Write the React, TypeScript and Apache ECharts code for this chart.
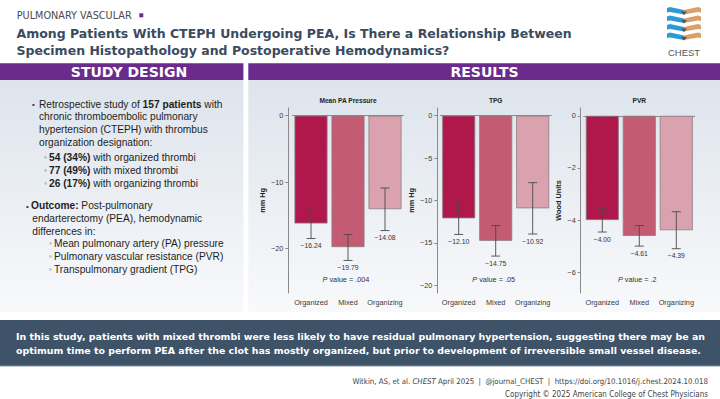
import React, { useEffect, useRef } from "react";
import * as echarts from "echarts";

// ---------- data ----------
const categories = ["Organized", "Mixed", "Organizing"];
const mpapMean = [-16.24, -19.79, -14.08];
const mpapHigh = [-14.1, -17.9, -10.9];
const mpapLow = [-18.5, -21.8, -17.3];
const tpgMean = [-12.1, -14.75, -10.92];
const tpgHigh = [-10.1, -12.95, -7.9];
const tpgLow = [-14.0, -16.55, -13.95];
const pvrMean = [-4.0, -4.61, -4.39];
const pvrHigh = [-3.57, -4.21, -3.68];
const pvrLow = [-4.46, -5.0, -5.1];
const mpapTicks = [0, -10, -20];
const tpgTicks = [0, -5, -10, -15, -20];
const pvrTicks = [0, -2, -4, -6];
const panelTitles = ["Mean PA Pressure", "TPG", "PVR"];
const axisNames = ["mm Hg", "mm Hg", "Wood Units"];
const pValues = [".004", ".05", ".2"];
const barColors = ["#b0184b", "#c35b72", "#d9a2ae"];

// ---------- layout ----------
const SANS = '"Liberation Sans", Arial, sans-serif';
const DJ = '"DejaVu Sans", Verdana, sans-serif';
const COND = '"DejaVu Sans Condensed", "DejaVu Sans", sans-serif';
const GRID_TOP = 108;
const GRID_H = 185;
const GRID_W = 111;
const panels = [
  { left: 292.5, offset: 4.2, min: -26.7, max: 1.15, ticks: mpapTicks, mean: mpapMean, hi: mpapHigh, lo: mpapLow, nameGap: 22 },
  { left: 440.2, offset: 2.9, min: -20.9, max: 0.9, ticks: tpgTicks, mean: tpgMean, hi: tpgHigh, lo: tpgLow, nameGap: 22 },
  { left: 583.8, offset: 3.1, min: -6.8, max: 0.3, ticks: pvrTicks, mean: pvrMean, hi: pvrHigh, lo: pvrLow, nameGap: 19 },
];

const fmt = (v: number) => (v < 0 ? "\u2212" : "") + Math.abs(v).toFixed(2);
const fmtTick = (v: number) => (v < 0 ? "\u2212" : "") + Math.abs(v);

const leftLines: { x: number; y: number; t: string }[] = [
  { x: 39, y: 104, t: "Retrospective study of {b|157 patients} with" },
  { x: 39, y: 116.7, t: "chronic thromboembolic pulmonary" },
  { x: 39, y: 129.3, t: "hypertension (CTEPH) with thrombus" },
  { x: 39, y: 142, t: "organization designation:" },
  { x: 49, y: 157.7, t: "{b|54 (34%)} with organized thrombi" },
  { x: 49, y: 170.3, t: "{b|77 (49%)} with mixed thrombi" },
  { x: 49, y: 183.3, t: "{b|26 (17%)} with organizing thrombi" },
  { x: 31, y: 205.7, t: "{b|Outcome:} Post-pulmonary" },
  { x: 32.3, y: 218.3, t: "endarterectomy (PEA), hemodynamic" },
  { x: 32.3, y: 231, t: "differences in:" },
  { x: 54, y: 243.3, t: "Mean pulmonary artery (PA) pressure" },
  { x: 54, y: 256, t: "Pulmonary vascular resistance (PVR)" },
  { x: 54, y: 269, t: "Transpulmonary gradient (TPG)" },
];
const bullets = [
  { x: 33.5, y: 104, t: "\u2022" },
  { x: 27.5, y: 206, t: "\u2022" },
  { x: 45.5, y: 157.7, t: "\u25E6" },
  { x: 45.5, y: 170.3, t: "\u25E6" },
  { x: 45.5, y: 183.3, t: "\u25E6" },
  { x: 50.5, y: 243.3, t: "\u25E6" },
  { x: 50.5, y: 256, t: "\u25E6" },
  { x: 50.5, y: 269, t: "\u25E6" },
];

function buildOption() {
  const grid: any[] = [];
  const xAxis: any[] = [];
  const yAxis: any[] = [];
  const series: any[] = [];
  const graphic: any[] = [];

  const panelGrad = {
    type: "linear", x: 0, y: 0, x2: 0, y2: 1,
    colorStops: [{ offset: 0, color: "#dde4ec" }, { offset: 1, color: "#f8f9fb" }],
  };
  graphic.push(
    { type: "rect", z: -10, shape: { x: 0, y: 80, width: 243.4, height: 232 }, style: { fill: panelGrad } },
    { type: "rect", z: -10, shape: { x: 248.3, y: 80, width: 471.7, height: 232 }, style: { fill: panelGrad } },
    { type: "rect", z: -9, shape: { x: 0, y: 63.3, width: 243.4, height: 16.8 }, style: { fill: "#6a2b8c" } },
    { type: "rect", z: -9, shape: { x: 248.3, y: 63.3, width: 471.7, height: 16.8 }, style: { fill: "#6a2b8c" } },
    { type: "text", x: 129, y: 72, style: { text: "STUDY DESIGN", fill: "#ffffff", font: `bold 14px ${DJ}`, textAlign: "center", textVerticalAlign: "middle" } },
    { type: "text", x: 484.5, y: 72, style: { text: "RESULTS", fill: "#ffffff", font: `bold 14px ${DJ}`, textAlign: "center", textVerticalAlign: "middle" } },
    // header
    { type: "text", x: 16.7, y: 15.5, style: { text: "PULMONARY VASCULAR", fill: "#4a4a4a", font: `9.7px ${DJ}`, textVerticalAlign: "middle" } },
    { type: "rect", shape: { x: 139.3, y: 13.3, width: 4, height: 4 }, style: { fill: "#6a2b8c" } },
    { type: "text", x: 16.5, y: 33.5, style: { text: "Among Patients With CTEPH Undergoing PEA, Is There a Relationship Between", fill: "#3a4b5e", font: `bold 12.5px ${DJ}`, textVerticalAlign: "middle" } },
    { type: "text", x: 16.5, y: 50.2, style: { text: "Specimen Histopathology and Postoperative Hemodynamics?", fill: "#3a4b5e", font: `bold 12.5px ${DJ}`, textVerticalAlign: "middle" } },
    // footer
    { type: "rect", z: -9, shape: { x: 0, y: 320, width: 720, height: 46 }, style: { fill: "#3e5367" } },
    { type: "line", shape: { x1: 0, y1: 366, x2: 720, y2: 366 }, style: { stroke: "#7f93a6", lineWidth: 1 } },
    { type: "text", x: 16, y: 336, style: { text: "In this study, patients with mixed thrombi were less likely to have residual pulmonary hypertension, suggesting there may be an", fill: "#ffffff", font: `bold 9.45px ${DJ}`, textVerticalAlign: "middle" } },
    { type: "text", x: 16, y: 350.7, style: { text: "optimum time to perform PEA after the clot has mostly organized, but prior to development of irreversible small vessel disease.", fill: "#ffffff", font: `bold 9.45px ${DJ}`, textVerticalAlign: "middle" } },
    {
      type: "text", x: 708, y: 381, style: {
        text: "Witkin, AS, et al. {i|CHEST} April 2025  |  @journal_CHEST  |  https://doi.org/10.1016/j.chest.2024.10.018",
        fill: "#444", font: `7.8px ${COND}`, textAlign: "right", textVerticalAlign: "middle",
        rich: { i: { fontStyle: "italic", fontFamily: COND, fontSize: 7.8, fill: "#444" } },
      },
    },
    { type: "text", x: 708, y: 394, style: { text: "Copyright \u00A9 2025 American College of Chest Physicians", fill: "#444", font: `8px ${COND}`, textAlign: "right", textVerticalAlign: "middle" } },
    { type: "text", x: 684, y: 52.7, style: { text: "CHEST", fill: "#555", font: `9.5px ${SANS}`, textAlign: "center", textVerticalAlign: "middle" } }
  );
  // logo stripes
  [10.5, 19, 27.5, 36].forEach((y) => {
    graphic.push(
      { type: "polygon", shape: { points: [[667, y - 2.5], [670, y - 3.5], [684, y - 0.5], [684, y + 4], [670, y + 1.5], [667, y + 2]] }, style: { fill: "#2f9bd6" } },
      { type: "polygon", shape: { points: [[684, y - 0.5], [698, y - 3.5], [701, y - 2.5], [701, y + 2], [698, y + 1.5], [684, y + 4]] }, style: { fill: "#d9a068" } },
      { type: "polygon", shape: { points: [[681, y + 1], [687, y + 1], [684, y + 4.5]] }, style: { fill: "#45546a" } }
    );
  });
  // left panel text
  leftLines.forEach((l) =>
    graphic.push({
      type: "text", x: l.x, y: l.y,
      style: {
        text: l.t, fill: "#1e1e1e", font: `10.2px ${SANS}`, textVerticalAlign: "middle",
        rich: { b: { fontWeight: "bold", fontFamily: SANS, fontSize: 10.2, fill: "#1e1e1e" } },
      },
    })
  );
  bullets.forEach((b) =>
    graphic.push({ type: "text", x: b.x, y: b.y, style: { text: b.t, fill: "#333", font: `8px ${SANS}`, textAlign: "center", textVerticalAlign: "middle" } })
  );

  panels.forEach((p, gi) => {
    grid.push({ left: p.left, top: GRID_TOP, width: GRID_W, height: GRID_H, containLabel: false });
    xAxis.push({
      type: "category", gridIndex: gi, data: categories,
      axisLine: { show: true, lineStyle: { color: "#8a8a8a", width: 1 } },
      axisTick: { show: true, alignWithLabel: true, length: 3, lineStyle: { color: "#8a8a8a" } },
      axisLabel: { interval: 0, color: "#3a3a3a", fontSize: 7.3, fontFamily: SANS, margin: 6 },
    });
    yAxis.push({
      type: "value", gridIndex: gi, min: p.min, max: p.max, offset: p.offset,
      name: axisNames[gi], nameLocation: "middle", nameGap: p.nameGap, nameRotate: 90,
      nameTextStyle: { fontWeight: "bold", fontSize: 7.3, fontFamily: SANS, color: "#222" },
      axisLine: { show: true, lineStyle: { color: "#8a8a8a", width: 1 } },
      axisTick: { show: true, length: 3, customValues: p.ticks, lineStyle: { color: "#8a8a8a" } },
      axisLabel: { customValues: p.ticks, formatter: (v: number) => fmtTick(v), color: "#3a3a3a", fontSize: 7.3, fontFamily: SANS, margin: 5 },
      splitLine: { show: false },
    });
    series.push({
      type: "bar", xAxisIndex: gi, yAxisIndex: gi, barWidth: 33, z: 2,
      data: p.mean.map((v, i) => ({ value: v, itemStyle: { color: barColors[i] } })),
      itemStyle: { borderColor: "#8c7c82", borderWidth: 0.8 },
    });
    series.push({
      type: "custom", xAxisIndex: gi, yAxisIndex: gi, z: 5,
      data: p.mean.map((m, i) => [i, p.lo[i], p.hi[i], m]),
      encode: { x: 0, y: [1, 2] },
      renderItem: (_params: any, api: any) => {
        const i = api.value(0);
        const pl = api.coord([i, api.value(1)]);
        const ph = api.coord([i, api.value(2)]);
        const cap = 4.5;
        const st = { stroke: "#4a4a4a", lineWidth: 0.9 };
        return {
          type: "group",
          children: [
            { type: "line", shape: { x1: pl[0], y1: pl[1], x2: ph[0], y2: ph[1] }, style: st },
            { type: "line", shape: { x1: pl[0] - cap, y1: pl[1], x2: pl[0] + cap, y2: pl[1] }, style: st },
            { type: "line", shape: { x1: ph[0] - cap, y1: ph[1], x2: ph[0] + cap, y2: ph[1] }, style: st },
            {
              type: "text", x: pl[0], y: pl[1] + 7,
              style: { text: fmt(api.value(3)), fill: "#333", font: `6.8px ${SANS}`, textAlign: "center", textVerticalAlign: "middle" },
            },
          ],
        };
      },
    });
    const cx = p.left + GRID_W / 2;
    graphic.push(
      { type: "text", x: cx, y: 100.7, style: { text: panelTitles[gi], fill: "#222", font: `bold 6.6px ${SANS}`, textAlign: "center", textVerticalAlign: "middle" } },
      {
        type: "text", x: cx - 2, y: 279,
        style: {
          text: "{i|P} value = " + pValues[gi], fill: "#333", font: `7.3px ${SANS}`, textAlign: "center", textVerticalAlign: "middle",
          rich: { i: { fontStyle: "italic", fontFamily: SANS, fontSize: 7.3, fill: "#333" } },
        },
      }
    );
  });

  return { animation: false, backgroundColor: "#ffffff", grid, xAxis, yAxis, series, graphic };
}

export default function App() {
  const ref = useRef<HTMLDivElement>(null);
  useEffect(() => {
    document.body.style.margin = "0";
    const chart = echarts.init(ref.current!, undefined, { renderer: "svg" });
    chart.setOption(buildOption() as any);
    return () => chart.dispose();
  }, []);
  return <div ref={ref} style={{ position: "absolute", left: 0, top: 0, width: 720, height: 399 }} />;
}
